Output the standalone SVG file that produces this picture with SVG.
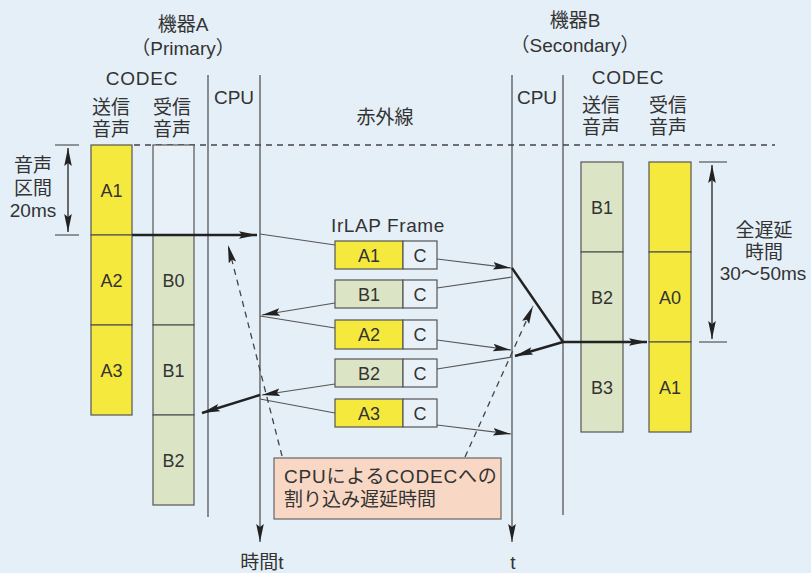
<svg xmlns="http://www.w3.org/2000/svg" width="811" height="573" viewBox="0 0 811 573">
<style>
text{font-family:"Liberation Sans","Noto Sans CJK JP",sans-serif;fill:#333;font-size:19px;}
.c{text-anchor:middle;}
.w1{letter-spacing:0.8px;}
.cell{font-size:18px;text-anchor:middle;}
.y{fill:#f6e93e;stroke:#555;stroke-width:1.2;}
.g{fill:#dbe4c4;stroke:#555;stroke-width:1.2;}
.w{fill:#e9f1f8;stroke:#555;stroke-width:1.2;}
.vl{stroke:#555;stroke-width:1.3;fill:none;}
.thin{stroke:#555;stroke-width:1.2;fill:none;}
.thick{stroke:#222;stroke-width:2.4;fill:none;}
.dash{stroke:#444;stroke-width:1.3;stroke-dasharray:6,5;fill:none;}
</style>
<defs>
<marker id="ah" markerUnits="userSpaceOnUse" markerWidth="20" markerHeight="10" refX="18" refY="5" orient="auto"><path d="M0,1.2 L18,5 L0,8.8 L3,5 Z" fill="#222"/></marker>
<marker id="ahs" markerUnits="userSpaceOnUse" markerWidth="20" markerHeight="10" refX="18" refY="5" orient="auto-start-reverse"><path d="M0,1.2 L18,5 L0,8.8 L3,5 Z" fill="#222"/></marker>
</defs>
<rect x="0" y="0" width="811" height="573" fill="#e5eff8"/>

<g id="headers">
<text class="c" x="183" y="31">機器A</text>
<text class="c" x="183" y="55" font-size="18">（Primary）</text>
<text class="c w1" x="142" y="85">CODEC</text>
<text class="c" x="111" y="114">送信</text>
<text class="c" x="111" y="136">音声</text>
<text class="c" x="172" y="114">受信</text>
<text class="c" x="172" y="136">音声</text>
<text class="c" x="234" y="104">CPU</text>
<text class="c" x="575" y="27">機器B</text>
<text class="c" x="575" y="52" font-size="18">（Secondary）</text>
<text class="c w1" x="628" y="84">CODEC</text>
<text class="c" x="601" y="112">送信</text>
<text class="c" x="601" y="134">音声</text>
<text class="c" x="668" y="112">受信</text>
<text class="c" x="668" y="134">音声</text>
<text class="c" x="537" y="104">CPU</text>
<text class="c" x="385" y="124">赤外線</text>
<text class="c" x="388" y="232" font-size="18" letter-spacing="0.6">IrLAP Frame</text>
<text class="c" x="262" y="569">時間t</text>
<text class="c" x="513" y="569">t</text>
</g>

<g id="timelines">
<line class="vl" x1="208" y1="75" x2="208" y2="517"/>
<line class="vl" x1="260" y1="75" x2="260" y2="542" marker-end="url(#ah)"/>
<line class="vl" x1="512" y1="75" x2="512" y2="542" marker-end="url(#ah)"/>
<line class="vl" x1="563" y1="75" x2="563" y2="515"/>
<line class="dash" x1="134" y1="145" x2="775" y2="145" stroke="#666" stroke-width="1.2"/>
</g>

<g id="codecA-send">
<rect class="y" x="91" y="145" width="41" height="90"/>
<rect class="y" x="91" y="235" width="41" height="90"/>
<rect class="y" x="91" y="325" width="41" height="90"/>
<text class="cell" x="111.5" y="197">A1</text>
<text class="cell" x="111.5" y="287">A2</text>
<text class="cell" x="111.5" y="377">A3</text>
</g>

<g id="codecA-recv">
<rect class="w" x="153" y="145" width="41" height="90"/>
<rect class="g" x="153" y="235" width="41" height="90"/>
<rect class="g" x="153" y="325" width="41" height="90"/>
<rect class="g" x="153" y="415" width="41" height="90"/>
<text class="cell" x="173.5" y="287">B0</text>
<text class="cell" x="173.5" y="377">B1</text>
<text class="cell" x="173.5" y="467">B2</text>
</g>

<g id="codecB-send">
<rect class="g" x="581" y="162" width="42" height="90"/>
<rect class="g" x="581" y="252" width="42" height="90"/>
<rect class="g" x="581" y="342" width="42" height="90"/>
<text class="cell" x="602" y="214">B1</text>
<text class="cell" x="602" y="304">B2</text>
<text class="cell" x="602" y="394">B3</text>
</g>

<g id="codecB-recv">
<rect class="y" x="649" y="162" width="42" height="90"/>
<rect class="y" x="649" y="252" width="42" height="90"/>
<rect class="y" x="649" y="342" width="42" height="90"/>
<text class="cell" x="670" y="304">A0</text>
<text class="cell" x="670" y="394">A1</text>
</g>

<g id="interval-left">
<line class="thin" x1="55" y1="145" x2="79" y2="145"/>
<line class="thin" x1="55" y1="235" x2="79" y2="235"/>
<line x1="68" y1="148" x2="68" y2="232" stroke="#222" stroke-width="1.3" marker-start="url(#ahs)" marker-end="url(#ah)"/>
<text class="c" x="33" y="172">音声</text>
<text class="c" x="33" y="195">区間</text>
<text class="c" x="33" y="217">20ms</text>
</g>

<g id="interval-right">
<line class="thin" x1="699" y1="162" x2="727" y2="162"/>
<line class="thin" x1="699" y1="342" x2="727" y2="342"/>
<line x1="712" y1="165" x2="712" y2="339" stroke="#222" stroke-width="1.3" marker-start="url(#ahs)" marker-end="url(#ah)"/>
<text class="c" x="764" y="237">全遅延</text>
<text class="c" x="764" y="259">時間</text>
<text class="c" x="763" y="280">30〜50ms</text>
</g>

<g id="frame-A1">
<rect class="y" x="335" y="241" width="68" height="28"/>
<rect class="w" x="403" y="241" width="34" height="28"/>
<text class="cell" x="369" y="261.5">A1</text>
<text class="cell" x="420" y="261.5" font-size="19">C</text>
</g>
<g id="frame-B1">
<rect class="g" x="335" y="280" width="68" height="28"/>
<rect class="w" x="403" y="280" width="34" height="28"/>
<text class="cell" x="369" y="300.5">B1</text>
<text class="cell" x="420" y="300.5" font-size="19">C</text>
</g>
<g id="frame-A2">
<rect class="y" x="335" y="320" width="68" height="29"/>
<rect class="w" x="403" y="320" width="34" height="29"/>
<text class="cell" x="369" y="341">A2</text>
<text class="cell" x="420" y="341" font-size="19">C</text>
</g>
<g id="frame-B2">
<rect class="g" x="335" y="359" width="68" height="28"/>
<rect class="w" x="403" y="359" width="34" height="28"/>
<text class="cell" x="369" y="379.5">B2</text>
<text class="cell" x="420" y="379.5" font-size="19">C</text>
</g>
<g id="frame-A3">
<rect class="y" x="335" y="399" width="68" height="28"/>
<rect class="w" x="403" y="399" width="34" height="28"/>
<text class="cell" x="369" y="419.5">A3</text>
<text class="cell" x="420" y="419.5" font-size="19">C</text>
</g>

<g id="note">
<rect x="274" y="458" width="227" height="61" fill="#f8d8c4" stroke="#666" stroke-width="1.2"/>
<text class="w1" x="284" y="483">CPUによるCODECへの</text>
<text x="284" y="506">割り込み遅延時間</text>
</g>

<g id="connectors">
<line class="thick" x1="132" y1="235" x2="257" y2="235" marker-end="url(#ah)"/>
<line class="thin" x1="260" y1="234" x2="335" y2="245"/>
<line class="thin" x1="437" y1="259" x2="511" y2="268" marker-end="url(#ah)"/>
<line class="thin" x1="512" y1="277" x2="437" y2="288"/>
<line class="thin" x1="335" y1="303" x2="262" y2="315" marker-end="url(#ah)"/>
<line class="thin" x1="260" y1="316" x2="335" y2="328"/>
<line class="thin" x1="437" y1="340" x2="511" y2="350" marker-end="url(#ah)"/>
<line class="thin" x1="512" y1="357" x2="437" y2="369"/>
<line class="thin" x1="335" y1="384" x2="262" y2="395" marker-end="url(#ah)"/>
<line class="thin" x1="260" y1="399" x2="335" y2="413"/>
<line class="thin" x1="437" y1="425" x2="511" y2="434" marker-end="url(#ah)"/>
<polyline class="thick" points="512,268 563,342"/>
<line class="thick" x1="563" y1="342" x2="647" y2="342" marker-end="url(#ah)"/>
<line class="thick" x1="563" y1="342" x2="515" y2="356" marker-end="url(#ah)"/>
<line class="thick" x1="260" y1="395" x2="202" y2="413" marker-end="url(#ah)"/>
<line class="dash" x1="282" y1="456" x2="228" y2="245" marker-end="url(#ah)"/>
<line class="dash" x1="465" y1="457" x2="533" y2="306" marker-end="url(#ah)"/>
</g>
</svg>
